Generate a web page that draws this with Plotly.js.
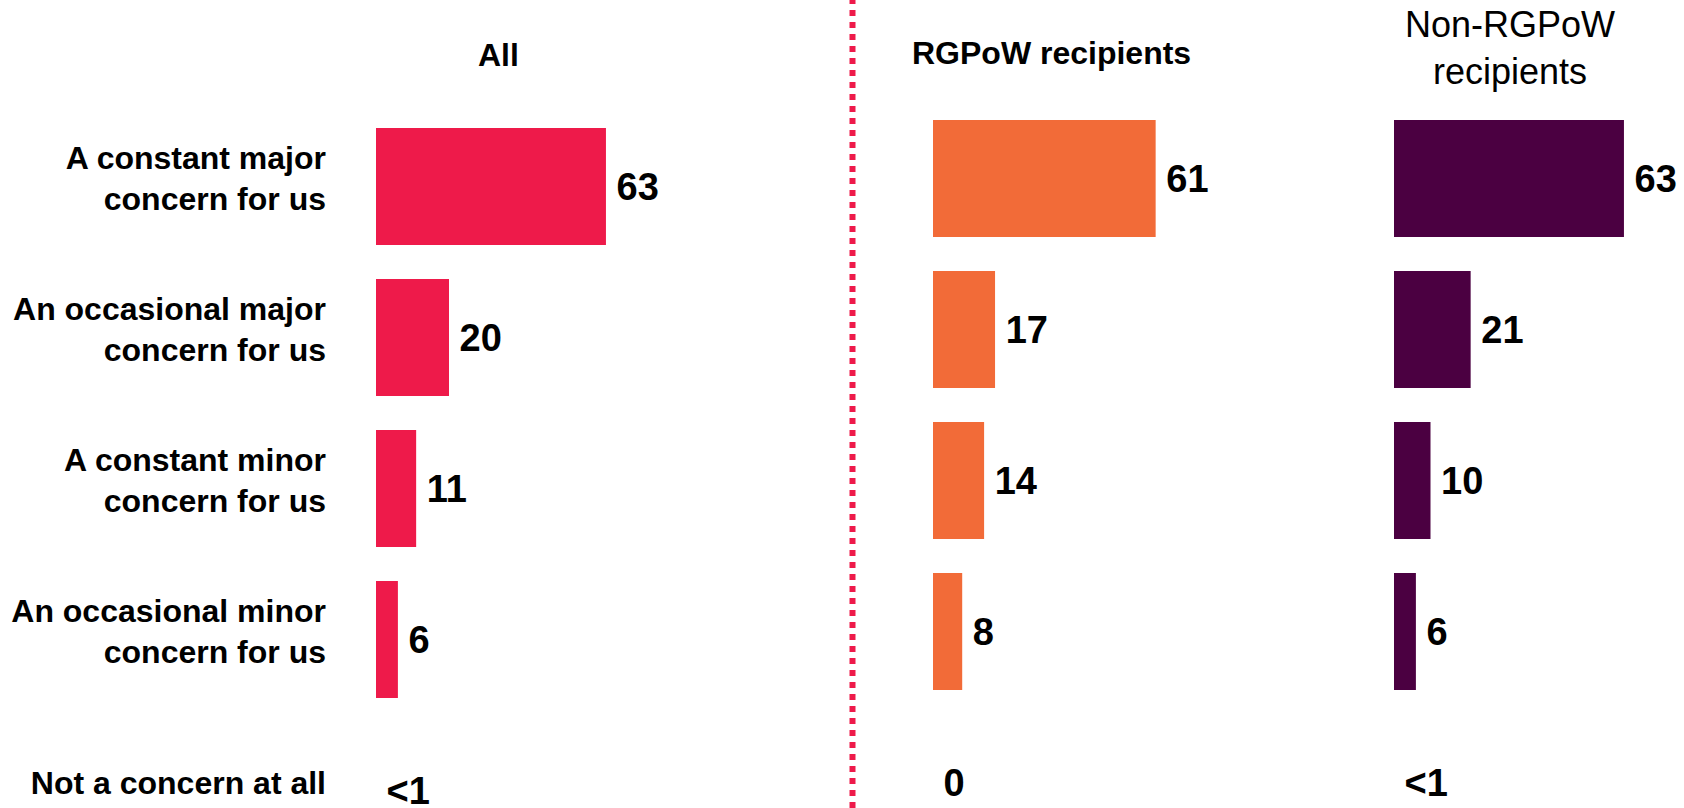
<!DOCTYPE html>
<html>
<head>
<meta charset="utf-8">
<script src="https://cdn.plot.ly/plotly-3.0.1.min.js"></script>
<style>html,body{margin:0;padding:0;background:#fff;}#chart{width:1684px;height:808px;}</style>
</head>
<body>
<div id="chart"></div>
<script>
const categories = [
  "A constant major<br>concern for us",
  "An occasional major<br>concern for us",
  "A constant minor<br>concern for us",
  "An occasional minor<br>concern for us",
  "Not a concern at all"
];
const panelTitles = ["All", "RGPoW recipients", "Non-RGPoW<br>recipients"];
const allValues = [63, 20, 11, 6, 0];
const allLabels = ["63", "20", "11", "6", "<1"];
const rgpowValues = [61, 17, 14, 8, 0];
const rgpowLabels = ["61", "17", "14", "8", "0"];
const nonRgpowValues = [63, 21, 10, 6, 0];
const nonRgpowLabels = ["63", "21", "10", "6", "<1"];

const W = 1684, H = 808;
const FAM = "Liberation Sans, Arial, sans-serif";
const pad = s => "\u2009" + s;

function barTrace(vals, labels, color, xa, ya) {
  return {
    type: "bar", orientation: "h",
    x: vals, y: categories,
    xaxis: xa, yaxis: ya,
    marker: {color: color},
    width: 0.775,
    text: labels.map(pad),
    textposition: "outside",
    cliponaxis: false,
    constraintext: "none",
    textfont: {family: FAM, size: 38, color: "#000", weight: "bold"},
    hoverinfo: "none"
  };
}

const data = [
  barTrace(allValues, allLabels, "#EE1A4A", "x", "y"),
  barTrace(rgpowValues, rgpowLabels, "#F26B38", "x2", "y2"),
  barTrace(nonRgpowValues, nonRgpowLabels, "#4B0041", "x3", "y2")
];

const pxPerUnit = 151;
function xdom(left) { return [left / W, (left + 70 * 3.65) / W]; }

const layout = {
  width: W, height: H,
  margin: {l: 0, r: 0, t: 0, b: 0, pad: 0},
  paper_bgcolor: "#fff", plot_bgcolor: "rgba(0,0,0,0)",
  showlegend: false,
  bargap: 0.225,
  font: {family: FAM, color: "#000"},
  xaxis: {domain: xdom(376), range: [0, 70], visible: false, anchor: "y"},
  xaxis2: {domain: xdom(933), range: [0, 70], visible: false, anchor: "y2"},
  xaxis3: {domain: xdom(1394), range: [0, 70], visible: false, anchor: "y2"},
  yaxis: {
    type: "category", categoryorder: "array", categoryarray: categories,
    range: [-186.5 / pxPerUnit + H / pxPerUnit, -186.5 / pxPerUnit],
    showticklabels: false, showgrid: false, zeroline: false, showline: false, ticks: "",
    domain: [0, 1], anchor: "x"
  },
  yaxis2: {
    type: "category", categoryorder: "array", categoryarray: categories,
    range: [-178.5 / pxPerUnit + H / pxPerUnit, -178.5 / pxPerUnit],
    showticklabels: true, showgrid: false, zeroline: false, showline: false, ticks: "",
    ticklabelstandoff: 50,
    tickfont: {family: FAM, size: 32, color: "#000", weight: "bold"},
    domain: [0, 1], anchor: "free", position: 376 / W
  },
  shapes: [{
    type: "line", xref: "paper", yref: "paper",
    x0: 852.5 / W, x1: 852.5 / W, y0: 0, y1: 1,
    line: {color: "#EE1A4A", width: 6, dash: "6px,6px"}
  }],
  annotations: [
    {text: panelTitles[0], xref: "paper", yref: "paper", x: 498.7 / W, y: 1 - 54.7 / H,
     xanchor: "center", yanchor: "middle", showarrow: false,
     font: {family: FAM, size: 32, color: "#000", weight: "bold"}},
    {text: panelTitles[1], xref: "paper", yref: "paper", x: 1051 / W, y: 1 - 53 / H,
     xanchor: "center", yanchor: "middle", showarrow: false,
     font: {family: FAM, size: 32, color: "#000", weight: "bold"}},
    {text: panelTitles[2], xref: "paper", yref: "paper", x: 1510 / W, y: 1 - 48 / H,
     xanchor: "center", yanchor: "middle", showarrow: false,
     font: {family: FAM, size: 36, color: "#000", weight: "normal"}}
  ]
};

Plotly.newPlot("chart", data, layout, {staticPlot: true, displayModeBar: false});
</script>
</body>
</html>
